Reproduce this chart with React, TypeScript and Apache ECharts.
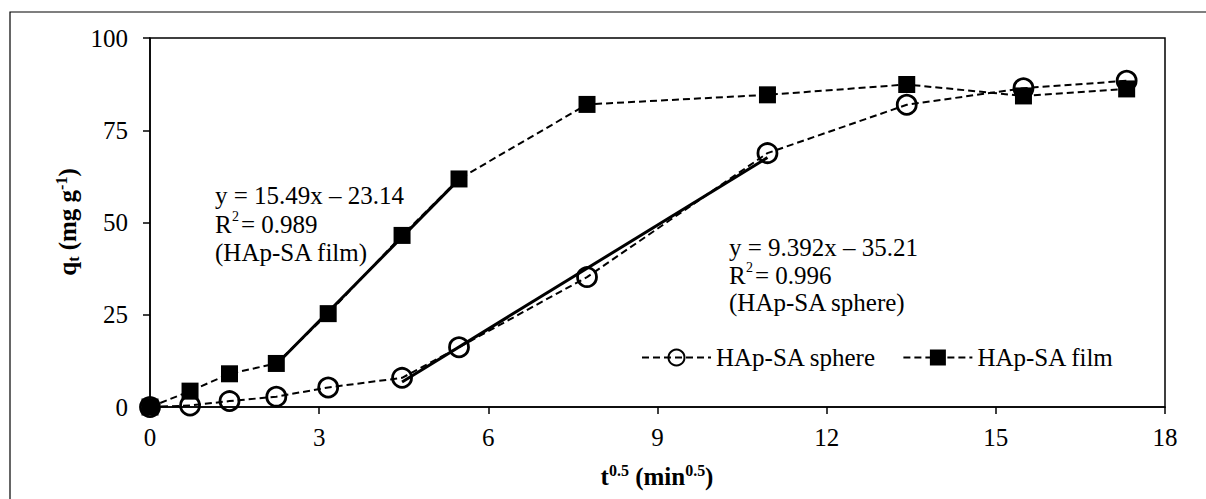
import React, { useEffect, useRef } from "react";
import * as echarts from "echarts";

const tValues = [0, 0.71, 1.41, 2.24, 3.16, 4.47, 5.48, 7.75, 10.95, 13.42, 15.49, 17.32];
const qSphere = [0, 0.4, 1.6, 2.8, 5.3, 7.9, 16.2, 35.2, 68.8, 81.9, 86.4, 88.4];
const qFilm = [0, 4.3, 9.0, 11.8, 25.3, 46.5, 61.8, 82.0, 84.6, 87.4, 84.3, 86.2];

const sphereFitX = [4.47, 10.95];
const sphereFitY = [6.8, 67.6];
const filmFitX = [2.24, 5.48];
const filmFitY = [11.5, 61.7];

const xTicks = [0, 3, 6, 9, 12, 15, 18];
const yTicks = [0, 25, 50, 75, 100];

const FONT = "'Liberation Serif', 'Times New Roman', serif";

export default function App() {
  const ref = useRef<HTMLDivElement>(null);
  useEffect(() => {
    if (!ref.current) return;
    const chart = echarts.init(ref.current, undefined, { renderer: "svg" });
    const pair = (xs: number[], ys: number[]) => xs.map((x, i) => [x, ys[i]]);
    const txt = (text: string, x: number, y: number, size = 25, extra: any = {}) => ({
      type: "text",
      x,
      y,
      z: 100,
      style: {
        text,
        font: `${size}px ${FONT}`,
        fill: "#000",
        textAlign: "left",
        textVerticalAlign: "middle",
        ...extra,
      },
    });
    chart.setOption({
      animation: false,
      backgroundColor: "#fff",
      grid: {
        left: 150,
        right: 41,
        top: 38,
        bottom: 92,
        show: true,
        borderColor: "#000",
        borderWidth: 1.5,
        containLabel: false,
        outerBoundsMode: "none",
      },
      xAxis: {
        type: "value",
        min: xTicks[0],
        max: xTicks[xTicks.length - 1],
        interval: 3,
        axisLine: { show: true, onZero: false, lineStyle: { color: "#000", width: 1.5 } },
        axisTick: { show: true, inside: false, length: 7, lineStyle: { color: "#000", width: 1.5 } },
        splitLine: { show: false },
        axisLabel: { fontSize: 25, fontFamily: FONT, color: "#000", margin: 18 },
      },
      yAxis: {
        type: "value",
        min: yTicks[0],
        max: yTicks[yTicks.length - 1],
        interval: 25,
        axisLine: { show: true, onZero: false, lineStyle: { color: "#000", width: 1.5 } },
        axisTick: { show: true, inside: false, length: 7, lineStyle: { color: "#000", width: 1.5 } },
        splitLine: { show: false },
        axisLabel: { fontSize: 25, fontFamily: FONT, color: "#000", margin: 22 },
      },
      legend: {
        data: ["HAp-SA sphere", "HAp-SA film"],
        left: 636,
        top: 340,
        itemWidth: 69,
        itemHeight: 20,
        itemGap: 26,
        textStyle: { fontSize: 25, fontFamily: FONT, color: "#000", padding: [0, 0, 0, 0] },
      },
      series: [
        {
          name: "HAp-SA sphere",
          type: "line",
          data: pair(tValues, qSphere),
          symbol: "circle",
          symbolSize: 19,
          lineStyle: { color: "#000", width: 2, type: [7, 4] },
          itemStyle: { color: "transparent", borderColor: "#000", borderWidth: 2.8 },
          z: 2,
        },
        {
          name: "HAp-SA film",
          type: "line",
          data: pair(tValues, qFilm),
          symbol: "rect",
          symbolSize: 17,
          lineStyle: { color: "#000", width: 2, type: [7, 4] },
          itemStyle: { color: "#000" },
          z: 3,
        },
        {
          name: "fitSphere",
          type: "line",
          data: pair(sphereFitX, sphereFitY),
          symbol: "none",
          lineStyle: { color: "#000", width: 3, type: "solid" },
          z: 4,
        },
        {
          name: "fitFilm",
          type: "line",
          data: pair(filmFitX, filmFitY),
          symbol: "none",
          lineStyle: { color: "#000", width: 3, type: "solid" },
          z: 4,
        },
      ],
      graphic: [
        {
          type: "rect",
          shape: { x: 10, y: 12, width: 1300, height: 600 },
          style: { fill: "none", stroke: "#000", lineWidth: 1.2 },
          z: 0,
          silent: true,
        },
        txt("y = 15.49x – 23.14", 215, 195),
        txt("R", 215, 224),
        txt("2", 232, 216, 14),
        txt("= 0.989", 241, 224),
        txt("(HAp-SA film)", 215, 252),
        txt("y = 9.392x – 35.21", 729, 247),
        txt("R", 729, 275),
        txt("2", 746, 267, 14),
        txt("= 0.996", 755, 275),
        txt("(HAp-SA sphere)", 729, 302),
        {
          type: "text",
          x: 657,
          y: 476,
          z: 100,
          style: {
            text: "{b|t}{s|0.5}{b| (min}{s|0.5}{b|)}",
            textAlign: "center",
            textVerticalAlign: "middle",
            fill: "#000",
            rich: {
              b: { fontSize: 25, fontWeight: "bold", fontFamily: FONT, lineHeight: 28, fill: "#000" },
              s: { fontSize: 16, fontWeight: "bold", fontFamily: FONT, lineHeight: 16, verticalAlign: "top", fill: "#000" },
            },
          },
        },
        {
          type: "text",
          x: 67,
          y: 222,
          rotation: Math.PI / 2,
          z: 100,
          style: {
            text: "{b|q}{d|t}{b| (mg g}{s|-1}{b|)}",
            textAlign: "center",
            textVerticalAlign: "middle",
            fill: "#000",
            rich: {
              b: { fontSize: 25, fontWeight: "bold", fontFamily: FONT, lineHeight: 28, fill: "#000" },
              s: { fontSize: 16, fontWeight: "bold", fontFamily: FONT, lineHeight: 16, verticalAlign: "top", fill: "#000" },
              d: { fontSize: 16, fontWeight: "bold", fontFamily: FONT, lineHeight: 14, verticalAlign: "bottom", fill: "#000" },
            },
          },
        },
      ],
    });
    return () => chart.dispose();
  }, []);
  return (
    <div
      ref={ref}
      style={{ position: "fixed", left: 0, top: 0, width: 1206, height: 499 }}
    />
  );
}
